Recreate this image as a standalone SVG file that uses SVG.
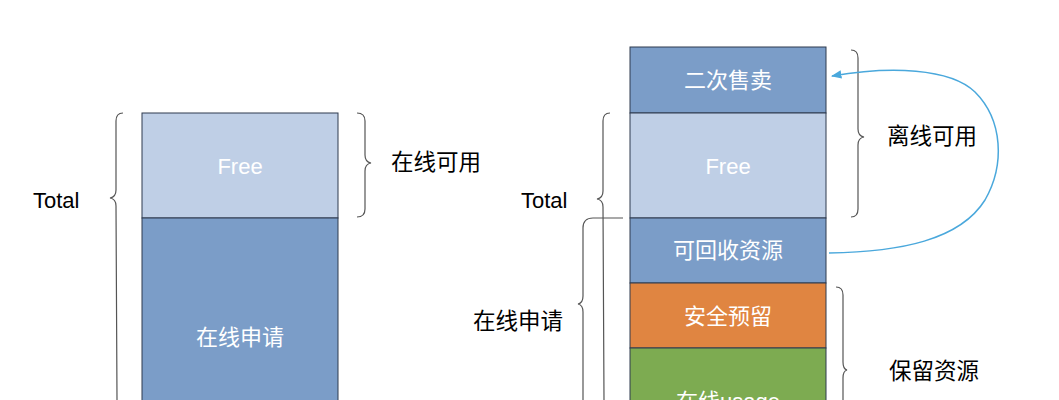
<svg xmlns="http://www.w3.org/2000/svg" width="1059" height="400" viewBox="0 0 1059 400">
<style>
.box{stroke:#2e3b4e;stroke-width:1}
.dark{fill:#7b9dc8}
.light{fill:#bfcfe6}
.orange{fill:#e08541}
.green{fill:#7dab51}
.in{font-family:"Liberation Sans","Noto Sans CJK SC",sans-serif;font-size:22px;fill:#ffffff;text-anchor:middle;dominant-baseline:central}
.lbl{font-family:"Liberation Sans","Noto Sans CJK SC",sans-serif;font-size:22.5px;fill:#000000;dominant-baseline:central}
.brace{fill:none;stroke:#555555;stroke-width:1.2}
</style>
<defs>
<marker id="arr" viewBox="0 0 10 10" refX="9" refY="5" markerWidth="7" markerHeight="7" orient="auto">
<path d="M0,1 L10,5 L0,9 z" fill="#4aa8dc"/>
</marker>
</defs>
<rect width="1059" height="400" fill="#ffffff"/>

<g id="left-free"><rect class="box light" x="142" y="113" width="196" height="105"/><text class="in" x="240" y="166">Free</text></g>
<g id="left-online"><rect class="box dark" x="142" y="218" width="196" height="200"/><text class="in" x="240" y="337">在线申请</text></g>

<g id="right-resale"><rect class="box dark" x="630" y="47" width="196" height="66"/><text class="in" x="728" y="80">二次售卖</text></g>
<g id="right-free"><rect class="box light" x="630" y="113" width="196" height="105"/><text class="in" x="728" y="166">Free</text></g>
<g id="right-reclaim"><rect class="box dark" x="630" y="218" width="196" height="65"/><text class="in" x="728" y="250">可回收资源</text></g>
<g id="right-safe"><rect class="box orange" x="630" y="283" width="196" height="65"/><text class="in" x="728" y="316">安全预留</text></g>
<g id="right-usage"><rect class="box green" x="630" y="348" width="196" height="80"/><text class="in" x="728" y="401">在线usage</text></g>

<g id="labels">
<text class="lbl" x="33" y="200" style="font-size:22px">Total</text>
<text class="lbl" x="391" y="162">在线可用</text>
<text class="lbl" x="521" y="200" style="font-size:22px">Total</text>
<text class="lbl" x="473" y="321">在线申请</text>
<text class="lbl" x="887" y="136">离线可用</text>
<text class="lbl" x="889" y="371">保留资源</text>
</g>

<g id="braces">
<path class="brace" d="M123,113 Q116,113 116,121 L116,190 Q116,197 110,198 Q116,199 116,206 L117,400"/>
<path class="brace" d="M357,113 Q365,113 365,121 L365,155 Q365,162 371,163 Q365,164 365,171 L365,209 Q365,217 357,217"/>
<path class="brace" d="M610,113 Q603,113 603,121 L603,191 Q603,198 597,199 Q603,200 603,207 L604,400"/>
<path class="brace" d="M623,218 L593,218 Q583,218 583,228 L583,296 Q583,303 578,304 Q583,305 583,312 L583,400"/>
<path class="brace" d="M851,50 Q858,50 858,58 L858,129 Q858,136 864,137 Q858,138 858,145 L858,209 Q858,217 851,217"/>
<path class="brace" d="M836,287 Q843,287 843,295 L843,362 Q843,369 847,370 Q843,371 843,378 L843,400"/>
</g>

<g id="connectors">
<path d="M829,253 C900,252 960,240 985,200 C1005,165 1003,120 975,92 C950,68 890,66 832,76" fill="none" stroke="#4aa8dc" stroke-width="1.5" marker-end="url(#arr)"/>
</g>
</svg>
